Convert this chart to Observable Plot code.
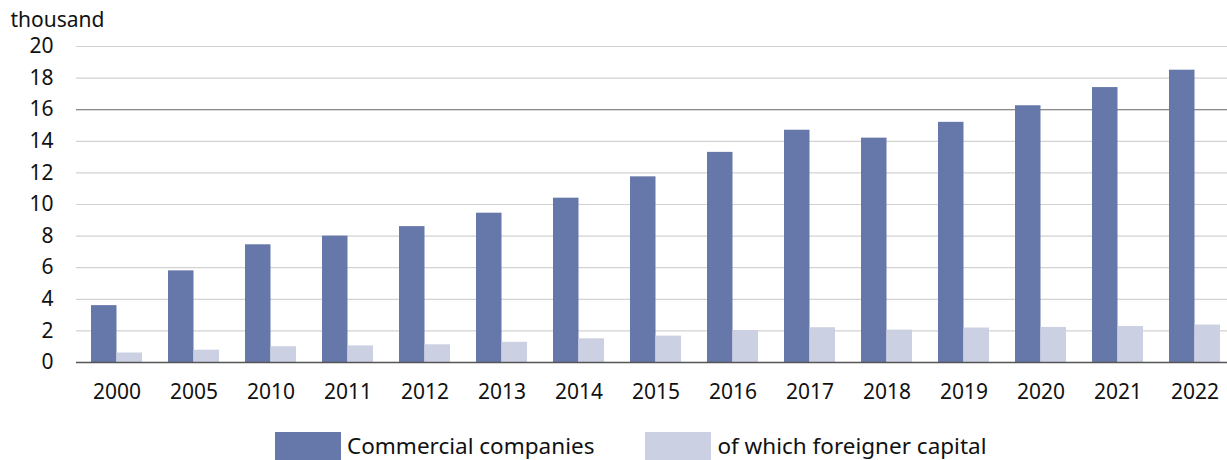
<!DOCTYPE html>
<html><head><meta charset="utf-8">
<script src="https://cdn.jsdelivr.net/npm/d3@7"></script>
<script src="https://cdn.jsdelivr.net/npm/@observablehq/plot@0.6"></script>
<style>
body{margin:0;background:#fff;font-family:"Noto Sans",sans-serif;overflow:hidden;width:1227px;height:460px;}
#legend{display:flex;align-items:flex-start;margin-left:275px;margin-top:12px;height:40px;font-size:22.5px;color:#111;white-space:nowrap}
.item{display:flex;align-items:flex-start}
.sw{width:66px;height:30px;margin-right:6px}
.lbl{line-height:24px;margin-top:2px}
</style>
</head><body>
<div id="chart"></div>
<div id="legend"></div>
<script>
const years = ["2000","2005","2010","2011","2012","2013","2014","2015","2016","2017","2018","2019","2020","2021","2022"];
const commercial = [3.6,5.8,7.45,8.0,8.6,9.45,10.4,11.75,13.3,14.7,14.2,15.2,16.25,17.4,18.5];
const foreign = [0.6,0.78,1.0,1.05,1.12,1.28,1.5,1.67,2.02,2.2,2.05,2.18,2.22,2.28,2.37];
const yTicks = [0,2,4,6,8,10,12,14,16,18,20];
const seriesNames = ["Commercial companies","of which foreigner capital"];
const colors = ["#6677aa","#cbd0e3"];

const rows = years.map((y,i)=>({year:y, commercial:commercial[i], foreign:foreign[i]}));

const chart = Plot.plot({
  width:1227, height:420,
  marginLeft:76, marginRight:-8, marginTop:46, marginBottom:58,
  style:{fontFamily:"Noto Sans", fontSize:"21px", color:"#111", background:"#fff"},
  x:{domain:years, paddingInner:0.34, paddingOuter:0.17, label:null},
  y:{domain:[0,20], label:null},
  marks:[
    Plot.ruleY(yTicks, {stroke:"#d2d2d2", strokeWidth:1.2}),
    Plot.ruleY([16], {stroke:"#8a8a8a", strokeWidth:1.2}),
    Plot.barY(rows, {x:"year", y:"commercial", fill:colors[0], insetRight:25.5}),
    Plot.barY(rows, {x:"year", y:"foreign", fill:colors[1], insetLeft:25.5}),
    Plot.ruleY([0], {stroke:"#555", strokeWidth:1.3}),
    Plot.axisX({tickSize:0, tickPadding:22, label:null}),
    Plot.axisY({ticks:yTicks, tickSize:0, tickPadding:23, label:null}),
    Plot.text(["thousand"], {text:d=>d, frameAnchor:"top-left", dx:-66, dy:-20, textAnchor:"start", lineAnchor:"bottom", fontSize:21})
  ]
});
document.getElementById("chart").appendChild(chart);

const legend = document.getElementById("legend");
seriesNames.forEach((name,i)=>{
  const it = document.createElement("div");
  it.className="item";
  if(i>0) it.style.marginLeft="51px";
  it.innerHTML = `<div class="sw" style="background:${colors[i]}"></div><div class="lbl">${name}</div>`;
  legend.appendChild(it);
});
</script>
</body></html>
